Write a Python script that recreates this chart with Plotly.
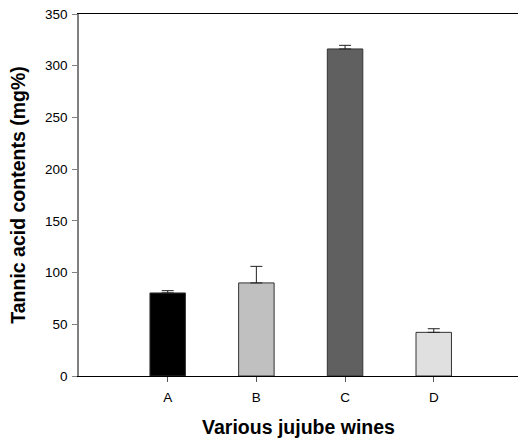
import plotly.graph_objects as go

categories = ["A", "B", "C", "D"]
values = [80.3, 90.0, 316.2, 42.2]
errors = [2.2, 16.0, 3.5, 3.5]
colors = ["#000000", "#c0c0c0", "#606060", "#e0e0e0"]
y_ticks = [0, 50, 100, 150, 200, 250, 300, 350]

fig = go.Figure()
fig.add_trace(go.Bar(
    x=categories,
    y=values,
    width=0.4,
    marker=dict(color=colors, line=dict(color="#333333", width=1)),
    error_y=dict(type="data", symmetric=False, array=errors,
                 arrayminus=[0] * len(errors), color="#222222",
                 thickness=1, width=6),
))

fig.update_layout(
    width=518, height=438,
    margin=dict(l=79, r=0, t=14, b=62, autoexpand=False),
    paper_bgcolor="white", plot_bgcolor="white",
    showlegend=False,
    font=dict(family="Liberation Sans, Arial", size=13, color="#000000"),
    xaxis=dict(
        range=[-1, 3.95], automargin=False,
        showline=True, linecolor="#000000", linewidth=1.2, mirror=True,
        ticks="outside", ticklen=5, tickcolor="#555555", tickwidth=1,
        showgrid=False, zeroline=False,
        tickfont=dict(size=13.5), ticklabelstandoff=4,
        title=dict(text="<b>Various jujube wines</b>",
                   font=dict(size=19.5), standoff=18),
    ),
    yaxis=dict(
        range=[0, 350], automargin=False,
        tickvals=y_ticks,
        showline=True, linecolor="#808080", linewidth=1.5,
        ticks="outside", ticklen=5, tickcolor="#808080", tickwidth=1,
        showgrid=False, zeroline=False,
        tickfont=dict(size=13.5), ticklabelstandoff=2,
        title=dict(text="<b>Tannic acid contents (mg%)</b>",
                   font=dict(size=19.5), standoff=14),
    ),
)

fig.write_html(
    "out.html",
    config={"displayModeBar": False},
    post_script="document.body.style.margin='0';document.body.style.overflow='hidden';",
)
